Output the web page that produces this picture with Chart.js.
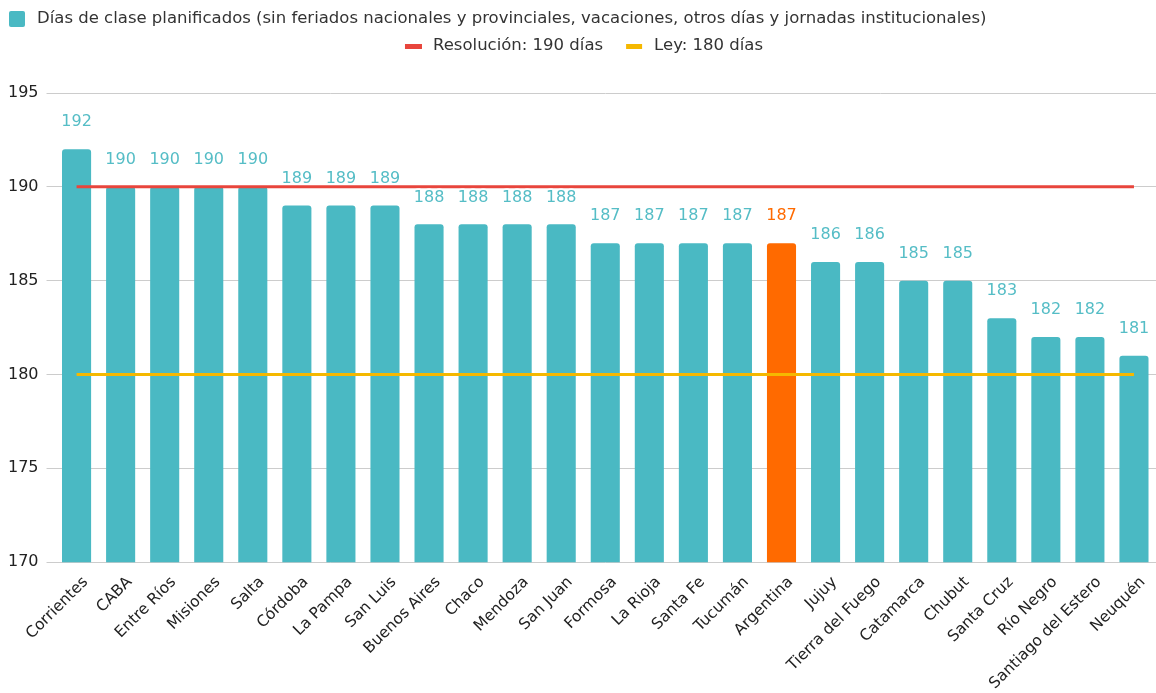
<!DOCTYPE html>
<html><head><meta charset="utf-8">
<script src="https://cdn.jsdelivr.net/npm/chart.js@4"></script>
<style>html,body{margin:0;padding:0;background:#fff}#wrap{width:1156px;height:693px}</style>
</head><body><div id="wrap"><canvas id="c"></canvas></div>
<script>
const categories = ["Corrientes","CABA","Entre Ríos","Misiones","Salta","Córdoba","La Pampa","San Luis","Buenos Aires","Chaco","Mendoza","San Juan","Formosa","La Rioja","Santa Fe","Tucumán","Argentina","Jujuy","Tierra del Fuego","Catamarca","Chubut","Santa Cruz","Río Negro","Santiago del Estero","Neuquén"];
const diasClase = [192,190,190,190,190,189,189,189,188,188,188,188,187,187,187,187,187,186,186,185,185,183,182,182,181];
const resolucion = categories.map(() => 190);
const ley = categories.map(() => 180);
const yTicks = [170,175,180,185,190,195];
const highlight = "Argentina";
const seriesNames = ["Días de clase planificados (sin feriados nacionales y provinciales, vacaciones, otros días y jornadas institucionales)","Resolución: 190 días","Ley: 180 días"];

const TEAL = "#4ab9c3", ORANGE = "#ff6a00", RED = "#e8453c", YELLOW = "#f5b800", LABEL_TEAL = "#55bdc6";
const FONT = "'DejaVu Sans', Verdana, sans-serif";

const labelPlugin={id:'vlabels',afterDatasetsDraw(chart){
  const meta=chart.getDatasetMeta(0);const ctx=chart.ctx;ctx.save();
  ctx.font="16px "+FONT;ctx.textAlign='center';ctx.textBaseline='bottom';
  meta.data.forEach((bar,i)=>{const t=String(diasClase[i]);const y=bar.y-19;
    ctx.lineWidth=3;ctx.strokeStyle='#fff';ctx.lineJoin='round';ctx.strokeText(t,bar.x,y);
    ctx.fillStyle=categories[i]===highlight?ORANGE:LABEL_TEAL;ctx.fillText(t,bar.x,y);});
  ctx.restore();}};

const legendPlugin={id:'customLegend',afterDraw(chart){
  const ctx=chart.ctx;ctx.save();
  ctx.font="16.5px "+FONT;ctx.textBaseline='middle';ctx.textAlign='left';ctx.fillStyle='#333';
  ctx.fillStyle=TEAL;ctx.beginPath();ctx.roundRect(9,11,16,16,2);ctx.fill();
  ctx.fillStyle='#333';ctx.fillText(seriesNames[0],37,19);
  const w1=ctx.measureText(seriesNames[1]).width, w2=ctx.measureText(seriesNames[2]).width;
  const total=17+11+w1+23+16+12+w2;
  let x=584-total/2;
  ctx.fillStyle=RED;ctx.fillRect(x,44,17,5);x+=28;
  ctx.fillStyle='#333';ctx.fillText(seriesNames[1],x,46);x+=w1+23;
  ctx.fillStyle=YELLOW;ctx.fillRect(x,44,16,5);x+=28;
  ctx.fillStyle='#333';ctx.fillText(seriesNames[2],x,46);
  ctx.restore();}};

new Chart(document.getElementById('c'),{
  data:{labels:categories,datasets:[
    {type:'bar',label:seriesNames[0],data:diasClase,
     backgroundColor:categories.map(c=>c===highlight?ORANGE:TEAL),borderRadius:3,borderSkipped:'bottom',categoryPercentage:0.66,barPercentage:1,order:2},
    {type:'line',label:seriesNames[1],data:resolucion,borderColor:RED,backgroundColor:RED,borderWidth:3,pointRadius:0,order:1},
    {type:'line',label:seriesNames[2],data:ley,borderColor:YELLOW,backgroundColor:YELLOW,borderWidth:3,pointRadius:0,order:1}
  ]},
  options:{responsive:true,maintainAspectRatio:false,animation:false,
    layout:{padding:{left:0,right:0,top:93,bottom:-3}},
    plugins:{tooltip:{enabled:false},legend:{display:false}},
    scales:{
      x:{grid:{display:false},border:{display:false},ticks:{font:{family:FONT,size:15.5},color:'#222',maxRotation:45,minRotation:45,autoSkip:false,padding:3,labelOffset:9}},
      y:{min:170,max:195,afterBuildTicks(ax){ax.ticks=yTicks.map(v=>({value:v}));},
        grid:{color:'#cccccc',lineWidth:1,tickLength:8},border:{display:false},
        ticks:{font:{family:FONT,size:16},color:'#222',padding:8}}
    }},
  plugins:[labelPlugin,legendPlugin]
});
</script></body></html>
